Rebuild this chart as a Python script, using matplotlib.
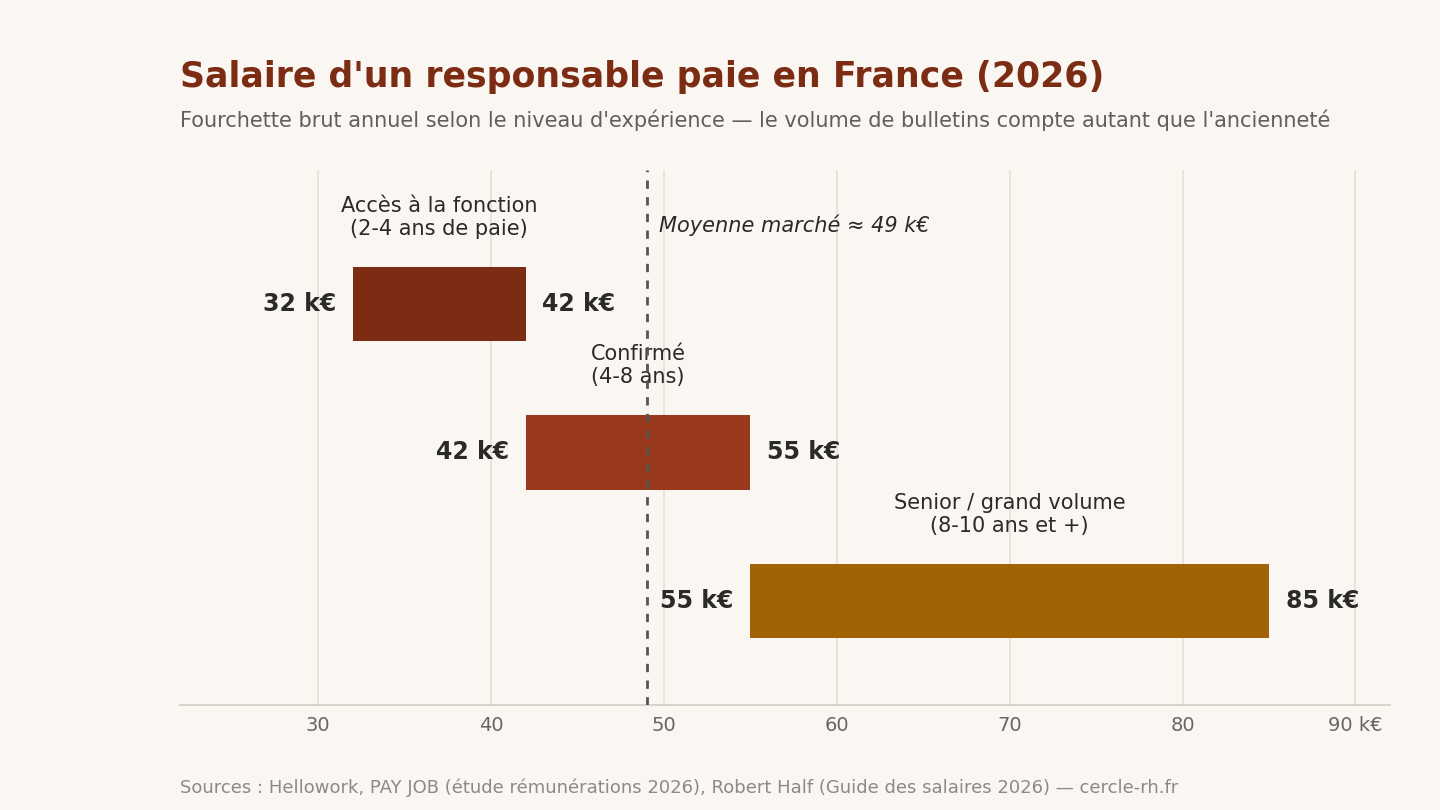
import matplotlib.pyplot as plt

levels = ["Accès à la fonction\n(2-4 ans de paie)", "Confirmé\n(4-8 ans)", "Senior / grand volume\n(8-10 ans et +)"]
low = [32, 42, 55]
high = [42, 55, 85]
colors = ["#7B2C13", "#98391D", "#A26206"]
mean_value = 49
ticks = [30, 40, 50, 60, 70, 80, 90]
tick_labels = ["30", "40", "50", "60", "70", "80", "90 k€"]

bg = "#FAF6F1"
fig = plt.figure(figsize=(14.4, 8.1), dpi=100, facecolor=bg)
ax = fig.add_axes([0.125, 0.1296, 0.8403, 0.6605], facecolor=bg)

for i, (lo, hi, c, name) in enumerate(zip(low, high, colors, levels)):
    ax.barh(i, hi - lo, left=lo, height=0.5, color=c, zorder=3)
    ax.annotate(f"{lo} k€", (lo, i), xytext=(-12, 0), textcoords="offset points",
                ha="right", va="center", fontsize=17, fontweight="bold", color="#2a2a2a")
    ax.annotate(f"{hi} k€", (hi, i), xytext=(12, 0), textcoords="offset points",
                ha="left", va="center", fontsize=17, fontweight="bold", color="#2a2a2a")
    ax.annotate(name, ((lo + hi) / 2, i - 0.25), xytext=(0, 20), textcoords="offset points",
                ha="center", va="bottom", fontsize=15, color="#2a2a2a", linespacing=1.2)

ax.axvline(mean_value, color="#555555", linestyle=(0, (3, 3)), linewidth=2, zorder=4)
ax.text(mean_value + 0.7, -0.525, "Moyenne marché ≈ 49 k€", style="italic",
        fontsize=15, color="#2a2a2a", va="center", ha="left")

ax.set_xlim(22, 92)
ax.set_ylim(2.7, -0.9)
ax.set_xticks(ticks)
ax.set_xticklabels(tick_labels, fontsize=14, color="#666666")
ax.set_yticks([])
ax.grid(axis="x", color="#E6E0D8", linewidth=1.2, zorder=0)
for s in ["top", "right", "left"]:
    ax.spines[s].set_visible(False)
ax.spines["bottom"].set_color("#D0CCC6")
ax.spines["bottom"].set_linewidth(1.2)
ax.tick_params(axis="x", length=0, pad=8)

fig.text(0.125, 0.905, "Salaire d'un responsable paie en France (2026)", fontsize=25,
         fontweight="bold", color="#7B2C13", va="center")
fig.text(0.125, 0.852, "Fourchette brut annuel selon le niveau d'expérience — le volume de bulletins compte autant que l'ancienneté",
         fontsize=15, color="#5f5f5f", va="center")
fig.text(0.125, 0.027, "Sources : Hellowork, PAY JOB (étude rémunérations 2026), Robert Half (Guide des salaires 2026) — cercle-rh.fr",
         fontsize=13, color="#8a8a8a", va="center")

fig.savefig("out.png", dpi=100, facecolor=bg)
